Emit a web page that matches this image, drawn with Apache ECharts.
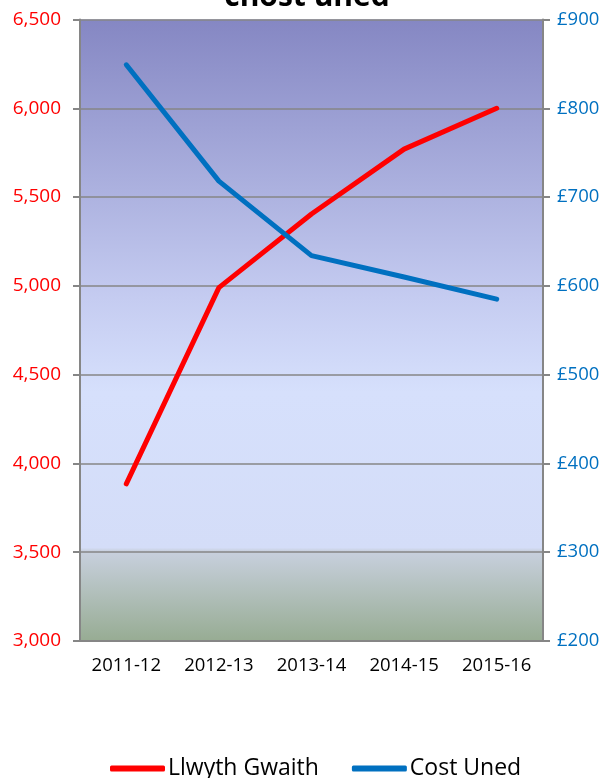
<!DOCTYPE html>
<html>
<head>
<meta charset="utf-8">
<script src="https://cdn.jsdelivr.net/npm/echarts@6/dist/echarts.min.js"></script>
<style>html,body{margin:0;padding:0;background:#fff}#c{width:614px;height:778px}</style>
</head>
<body>
<div id="c"></div>
<script>
const categories = ['2011-12', '2012-13', '2013-14', '2014-15', '2015-16'];
const llwythGwaith = [3885, 4990, 5405, 5770, 6000];
const costUned = [849, 718, 634, 610, 585];
const leftTicks = [3000, 6500, 500];
const rightTicks = [200, 900, 100];
const seriesNames = ['Llwyth Gwaith', 'Cost Uned'];
const titleText = 'chost uned';

const font = '"Open Sans", "Noto Sans", sans-serif';
const chart = echarts.init(document.getElementById('c'));
chart.setOption({
  animation: false,
  title: {
    text: titleText, left: 'center', top: -23,
    textStyle: { fontFamily: font, fontWeight: 'bold', fontSize: 30, color: '#000' }
  },
  grid: {
    left: 80, right: 71, top: 19.5, bottom: 137, show: true,
    borderWidth: 0,
    backgroundColor: new echarts.graphic.LinearGradient(0, 0, 0, 1, [
      { offset: 0, color: '#8587C3' },
      { offset: 0.45, color: '#C5CCF1' },
      { offset: 0.6, color: '#D6E0FC' },
      { offset: 0.85, color: '#D4DDF8' },
      { offset: 0.855, color: '#C8D0DE' },
      { offset: 1, color: '#97AC93' }
    ])
  },
  legend: {
    bottom: -7, left: 105, itemGap: 33, itemWidth: 55, itemHeight: 6,
    icon: 'roundRect',
    textStyle: { fontFamily: font, fontSize: 23, color: '#000', padding: [0, 0, 0, -2] },
    data: seriesNames
  },
  xAxis: {
    type: 'category', data: categories, boundaryGap: true,
    axisLine: { lineStyle: { color: '#868686', width: 2 } },
    axisTick: { show: false },
    axisLabel: { fontFamily: font, fontSize: 18.5, color: '#000', margin: 15 }
  },
  yAxis: [
    {
      type: 'value', min: leftTicks[0], max: leftTicks[1], interval: leftTicks[2], position: 'left',
      axisLine: { show: true, lineStyle: { color: '#868686', width: 2 } },
      axisTick: { show: true, length: 7, lineStyle: { color: '#868686', width: 2 } },
      splitLine: { lineStyle: { color: '#868686', width: 1.5 } },
      axisLabel: { fontFamily: font, fontSize: 19, color: '#FF0000', margin: 19,
        formatter: v => v.toLocaleString('en-GB') }
    },
    {
      type: 'value', min: rightTicks[0], max: rightTicks[1], interval: rightTicks[2], position: 'right',
      axisLine: { show: true, lineStyle: { color: '#868686', width: 2 } },
      axisTick: { show: true, length: 7, lineStyle: { color: '#868686', width: 2 } },
      splitLine: { show: false },
      axisLabel: { fontFamily: font, fontSize: 18.5, color: '#0070C0', margin: 14,
        formatter: v => '£' + v }
    }
  ],
  series: [
    {
      name: seriesNames[0], type: 'line', yAxisIndex: 0, data: llwythGwaith,
      showSymbol: false, symbol: 'none', color: '#FF0000',
      lineStyle: { width: 5, color: '#FF0000', cap: 'round', join: 'round' }
    },
    {
      name: seriesNames[1], type: 'line', yAxisIndex: 1, data: costUned,
      showSymbol: false, symbol: 'none', color: '#0070C0',
      lineStyle: { width: 5, color: '#0070C0', cap: 'round', join: 'round' }
    }
  ]
});
</script>
</body>
</html>
